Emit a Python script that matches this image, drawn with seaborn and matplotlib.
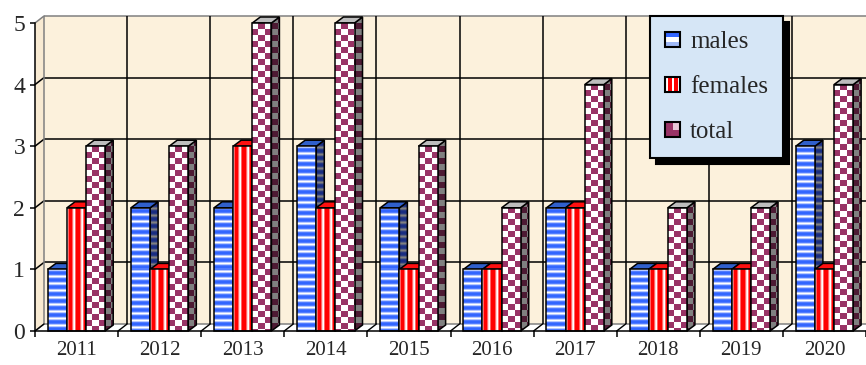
import numpy as np
import pandas as pd
import matplotlib
matplotlib.use("Agg")
import matplotlib.pyplot as plt
import seaborn as sns
from matplotlib.patches import Polygon, Rectangle, Patch
from matplotlib.transforms import ScaledTranslation
from matplotlib.legend_handler import HandlerBase

# ---- data -------------------------------------------------------------
years = ["2011", "2012", "2013", "2014", "2015",
         "2016", "2017", "2018", "2019", "2020"]
males = [1, 2, 2, 3, 2, 1, 2, 1, 1, 3]
females = [2, 1, 3, 2, 1, 1, 2, 1, 1, 1]
total = [3, 3, 5, 5, 3, 2, 4, 2, 2, 4]
series = ["males", "females", "total"]
y_ticks = [0, 1, 2, 3, 4, 5]

df = pd.DataFrame({
    "year": years * 3,
    "group": np.repeat(series, len(years)),
    "count": males + females + total,
})

# ---- style ------------------------------------------------------------
sns.set_style("white")
plt.rcParams["font.family"] = ["Liberation Serif", "DejaVu Serif"]

DPI = 100
W_PX, H_PX = 866, 365
fig = plt.figure(figsize=(W_PX / DPI, H_PX / DPI), dpi=DPI)
fig.patch.set_facecolor("white")
ax = fig.add_axes([35 / W_PX, 34 / H_PX, 831 / W_PX, 308 / H_PX])
ax.set_facecolor("none")

sns.barplot(data=df, x="year", y="count", hue="group", order=years,
            hue_order=series, width=0.69, errorbar=None, legend=False,
            palette=["#3366ff", "#ff0000", "#993366"],
            edgecolor="black", linewidth=1.1, ax=ax)

n_cat = len(years)
ax.set_xlim(-0.5, n_cat - 0.5)
ax.set_ylim(y_ticks[0], y_ticks[-1])
ax.set_xlabel("")
ax.set_ylabel("")


def px_to_data(dx, dy):
    """Convert a pixel shift into a data-unit shift."""
    o = ax.transData.transform((0, 0))
    p = ax.transData.inverted().transform(o + np.array([dx, dy]))
    return p[0], p[1]


# ---- 3-D box: walls, floor and gridlines -------------------------------
WALL_DX, WALL_DY = 9, 7
wdx, wdy = px_to_data(WALL_DX, WALL_DY)
wall_tr = ax.transData + ScaledTranslation(WALL_DX / DPI, WALL_DY / DPI,
                                           fig.dpi_scale_trans)
x_lo, x_hi = -0.5, n_cat - 0.5
y_lo, y_hi = y_ticks[0], y_ticks[-1]

wall_color = "#fcf1dc"
ax.add_patch(Rectangle((x_lo, y_lo), x_hi - x_lo, y_hi - y_lo,
                       transform=wall_tr, fc=wall_color, ec="none",
                       zorder=0, clip_on=False))
ax.add_patch(Polygon([(x_lo, y_lo), (x_lo + wdx, y_lo + wdy),
                      (x_lo + wdx, y_hi + wdy), (x_lo, y_hi)],
                     fc="#f8ead2", ec="none", zorder=0, clip_on=False))
ax.add_patch(Polygon([(x_lo, y_lo), (x_hi, y_lo), (x_hi + wdx, y_lo + wdy),
                      (x_lo + wdx, y_lo + wdy)],
                     fc="white", ec="none", zorder=0.5, clip_on=False))

inner = y_ticks[1:-1]
ax.hlines(inner, x_lo, x_hi, transform=wall_tr, colors="black",
          lw=1.1, zorder=0.6, clip_on=False)
ax.hlines([y_lo, y_hi], x_lo, x_hi, transform=wall_tr, colors="#808080",
          lw=1.1, zorder=0.6, clip_on=False)
for yv in y_ticks:
    ax.plot([x_lo, x_lo + wdx], [yv, yv + wdy],
            color="black" if yv in inner else "#808080",
            lw=1.1, zorder=0.6, clip_on=False)

bounds = np.arange(n_cat + 1) - 0.5
ax.vlines(bounds[1:-1], y_lo, y_hi, transform=wall_tr, colors="black",
          lw=1.1, zorder=0.6, clip_on=False)
ax.vlines([x_lo], y_lo, y_hi, transform=wall_tr, colors="#808080",
          lw=1.1, zorder=0.6, clip_on=False)
for xb in bounds:
    ax.plot([xb, xb + wdx], [y_lo, y_lo + wdy], color="black",
            lw=1.0, zorder=0.6, clip_on=False)

# ---- textures for the bar faces ----------------------------------------
WHITE = np.array([255, 255, 255])
GRAY = np.array([128, 128, 128])


def texture(kind, face, wpx, hpx):
    r = np.arange(hpx)[:, None] * np.ones((1, wpx), dtype=int)
    c = np.ones((hpx, 1), dtype=int) * np.arange(wpx)[None, :]
    if kind == "males":
        ramp = np.array([0.0, 0.35, 0.85, 1.0, 1.0, 0.85, 0.35])
        t = ramp[r % 7][..., None]
        if face == "front":
            img = WHITE * (1 - t) + np.array([51, 102, 255]) * t
        else:
            img = GRAY * (1 - t) + np.array([25, 45, 130]) * t
    elif kind == "females":
        ramp = np.array([0.0, 0.6, 1.0, 1.0, 1.0, 0.6, 0.15])
        t = ramp[c % 7][..., None]
        if face == "front":
            img = WHITE * (1 - t) + np.array([255, 0, 0]) * t
        else:
            img = np.array([200, 90, 90]) * (1 - t) + np.array([160, 0, 0]) * t
    else:
        t = (((r // 6) + (c // 6)) % 2)[..., None]
        if face == "front":
            img = WHITE * (1 - t) + np.array([153, 51, 102]) * t
        else:
            img = GRAY * (1 - t) + np.array([77, 26, 51]) * t
    return img / 255.0


def paint(poly, kind, face, z):
    """Fill a face polygon with its pattern, clipped to the polygon."""
    verts = np.asarray(poly.get_xy())
    xmin, xmax = verts[:, 0].min(), verts[:, 0].max()
    ymin, ymax = verts[:, 1].min(), verts[:, 1].max()
    p0 = ax.transData.transform((xmin, ymin))
    p1 = ax.transData.transform((xmax, ymax))
    wpx = max(1, int(round(p1[0] - p0[0])))
    hpx = max(1, int(round(p1[1] - p0[1])))
    im = ax.imshow(texture(kind, face, wpx, hpx),
                   extent=(xmin, xmax, ymin, ymax), origin="upper",
                   interpolation="nearest", aspect="auto", zorder=z)
    im.set_clip_path(poly)
    im.set_clip_box(fig.bbox)


top_colors = {"males": "#3060cc", "females": "#ff1010", "total": "#bdbdbd"}

BAR_DX, BAR_DY = 8, 6
bdx, bdy = px_to_data(BAR_DX, BAR_DY)
bars = list(ax.patches)[: len(series) * n_cat]
for i, bar in enumerate(bars):
    s_idx = i // n_cat
    kind = series[s_idx]
    x0, w, h = bar.get_x(), bar.get_width(), bar.get_height()
    x1 = x0 + w
    z = 2 + 3 * s_idx

    side = Polygon([(x1, 0), (x1 + bdx, bdy), (x1 + bdx, h + bdy), (x1, h)],
                   fc="none", ec="black", lw=1.1, zorder=z + 0.2,
                   clip_on=False)
    ax.add_patch(side)
    paint(side, kind, "side", z)

    top = Polygon([(x0, h), (x0 + bdx, h + bdy), (x1 + bdx, h + bdy), (x1, h)],
                  fc=top_colors[kind], ec="black", lw=1.1, zorder=z + 0.3,
                  clip_on=False)
    ax.add_patch(top)

    front = Polygon([(x0, 0), (x1, 0), (x1, h), (x0, h)], fc="none",
                    ec="none", zorder=z + 0.5, clip_on=False)
    ax.add_patch(front)
    paint(front, kind, "front", z + 1)

    bar.set_facecolor("none")
    bar.set_zorder(z + 1.5)
    bar.set_clip_on(False)

ax.set_xlim(x_lo, x_hi)
ax.set_ylim(y_lo, y_hi)

# ---- axes, ticks, labels ----------------------------------------------
for name in ("top", "right"):
    ax.spines[name].set_visible(False)
for name in ("left", "bottom"):
    ax.spines[name].set_color("black")
    ax.spines[name].set_linewidth(1.1)
    ax.spines[name].set_zorder(15)

ax.set_yticks(y_ticks)
ax.set_yticklabels([str(v) for v in y_ticks])
ax.tick_params(axis="y", direction="out", length=3.6, width=1.1,
               color="black", labelsize=17, pad=3.5, left=True)

ax.set_xticks(bounds)
ax.set_xticklabels([])
ax.set_xticks(np.arange(n_cat), minor=True)
ax.set_xticklabels(years, minor=True)
ax.tick_params(axis="x", which="major", direction="out", length=4.3,
               width=1.1, color="black", bottom=True, labelbottom=False)
ax.tick_params(axis="x", which="minor", length=0, labelsize=15, pad=7,
               bottom=True, labelbottom=True)
ax.grid(False)


# ---- legend ------------------------------------------------------------
class SwatchHandler(HandlerBase):
    def __init__(self, kind):
        super().__init__()
        self.kind = kind

    def create_artists(self, legend, orig_handle, xdescent, ydescent,
                       width, height, fontsize, trans):
        x0, y0 = -xdescent, -ydescent
        arts = [Rectangle((x0, y0), width, height, fc="white", ec="none",
                          transform=trans)]
        if self.kind == "males":
            arts.append(Rectangle((x0, y0 + height * 0.62), width,
                                  height * 0.38, fc="#3366ff", ec="none",
                                  transform=trans))
            arts.append(Rectangle((x0, y0), width, height * 0.3,
                                  fc="#9fb8f5", ec="none", transform=trans))
        elif self.kind == "females":
            for fx in (0.22, 0.62):
                arts.append(Rectangle((x0 + width * fx, y0), width * 0.25,
                                      height, fc="#ff0000", ec="none",
                                      transform=trans))
        else:
            arts.append(Rectangle((x0, y0), width, height, fc="#993366",
                                  ec="none", transform=trans))
            arts.append(Rectangle((x0 + width * 0.5, y0 + height * 0.45),
                                  width * 0.5, height * 0.55, fc="#e8c8d8",
                                  ec="none", transform=trans))
        arts.append(Rectangle((x0, y0), width, height, fc="none",
                              ec="black", lw=1.5, transform=trans))
        return arts


handles = [Patch(label=s) for s in series]
leg = ax.legend(handles, series,
                handler_map={h: SwatchHandler(s) for h, s in zip(handles, series)},
                loc="upper left", bbox_to_anchor=(650 / W_PX, 1 - 16 / H_PX),
                bbox_transform=fig.transFigure, borderaxespad=0,
                frameon=True, fancybox=False,
                shadow={"ox": 4, "oy": -4, "color": "black", "alpha": 1},
                facecolor="#d6e6f6", edgecolor="black", framealpha=1,
                fontsize=18, handlelength=0.6, handleheight=0.55,
                handletextpad=0.4, labelspacing=0.92, borderpad=0.6)
leg.get_frame().set_linewidth(1.5)
leg.set_zorder(30)

fig.savefig("out.png", dpi=DPI)
